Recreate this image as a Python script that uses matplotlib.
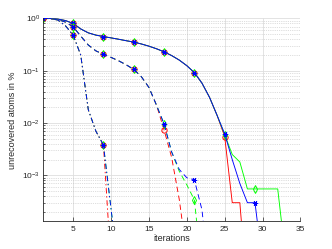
import numpy as np
import matplotlib
matplotlib.use('Agg')
import matplotlib.pyplot as plt

# shared head of each group (iterations start at 1)
solid_head = [1.0, 0.995, 0.97, 0.91, 0.80, 0.63, 0.53, 0.48, 0.45, 0.425, 0.40, 0.375,
              0.353, 0.325, 0.295, 0.263, 0.23, 0.195, 0.16, 0.125, 0.092, 0.058, 0.031, 0.014]
dashed_head = [1.0, 0.99, 0.95, 0.85, 0.69, 0.46, 0.31, 0.24, 0.205, 0.18, 0.155, 0.13,
               0.106, 0.077, 0.048, 0.022]
dashdot_head = [1.0, 0.99, 0.93, 0.72, 0.48, 0.2, 0.018, 0.007, 0.0038]

# tails where the three runs split
solid_red = solid_head + [0.0055, 3.0e-4, 3.0e-4, 5e-6]
solid_green = solid_head + [0.006, 2.5e-3, 1.8e-3, 5.5e-4, 5.5e-4, 5.5e-4, 5.5e-4, 5.5e-4, 3e-5]
solid_blue = solid_head + [0.0062, 2.0e-3, 7.0e-4, 3.0e-4, 3.0e-4, 2e-5]

dashed_red = dashed_head + [0.0074, 2.2e-3, 3.5e-4, 3e-5]
dashed_green = dashed_head + [0.0096, 2.8e-3, 1.2e-3, 6.6e-4, 3.4e-4, 1.4e-5]
dashed_blue = dashed_head + [0.0096, 2.8e-3, 1.3e-3, 9.0e-4, 8.2e-4, 2.2e-4, 1e-5]

dashdot_red = dashdot_head + [2e-5]
dashdot_green = dashdot_head + [2.3e-4, 1.4e-5]
dashdot_blue = dashdot_head + [2.3e-4, 1.4e-5]

xticks = [5, 10, 15, 20, 25, 30, 35]
yticks = [1e-3, 1e-2, 1e-1, 1]
ytick_labels = ['$10^{-3}$', '$10^{-2}$', '$10^{-1}$', '$10^{0}$']

plt.rcParams['font.family'] = ['Liberation Sans', 'DejaVu Sans']
plt.rcParams['mathtext.fontset'] = 'custom'
plt.rcParams['mathtext.rm'] = 'Liberation Sans'
plt.rcParams['mathtext.it'] = 'Liberation Sans'
fig = plt.figure(figsize=(3.32, 2.49), dpi=100)
ax = fig.add_axes([0.129, 0.111, 0.776, 0.815])

styles = [('r', 'o'), ('#00ff00', 'd'), ('b', (6, 2, 90))]
groups = [('-', [solid_red, solid_green, solid_blue]),
          ((0, (6, 4)), [dashed_red, dashed_green, dashed_blue]),
          ((0, (6, 3, 1.5, 3)), [dashdot_red, dashdot_green, dashdot_blue])]

for ls, series in groups:
    for (col, mk), y in zip(styles, series):
        x = np.arange(1, len(y) + 1)
        ax.semilogy(x, y, ls=ls, color=col, lw=0.65, marker=mk, markevery=slice(0, None, 4),
                    ms=3.8, mfc='none', mec=col, mew=0.7)

ax.set_xlim(1, 35)
ax.set_ylim(1.32e-4, 1)
ax.set_xticks(xticks)
ax.set_yticks(yticks)
ax.set_yticklabels(ytick_labels)
ax.grid(True, which='major', color='0.87', lw=0.6, ls='-')
ax.grid(True, which='minor', axis='y', color='0.75', lw=0.5, ls=':')
ax.set_axisbelow(True)
for s in ['top', 'right']:
    ax.spines[s].set_visible(False)
for s in ['left', 'bottom']:
    ax.spines[s].set_color('0.15')
    ax.spines[s].set_linewidth(0.6)
ax.tick_params(which='both', direction='in', labelsize=6, colors='0.15', width=0.5)
ax.tick_params(which='major', length=3)
ax.tick_params(which='minor', length=1.5)
ax.tick_params(axis='y', pad=2)
ax.set_xlabel('iterations', fontsize=6.5, color='0.15')
ax.set_ylabel('unrecovered atoms in %', fontsize=6.5, color='0.15')
ax.xaxis.set_label_coords(0.5, -0.06)
ax.yaxis.set_label_coords(-0.1, 0.5)

fig.savefig('out.png', dpi=100)
